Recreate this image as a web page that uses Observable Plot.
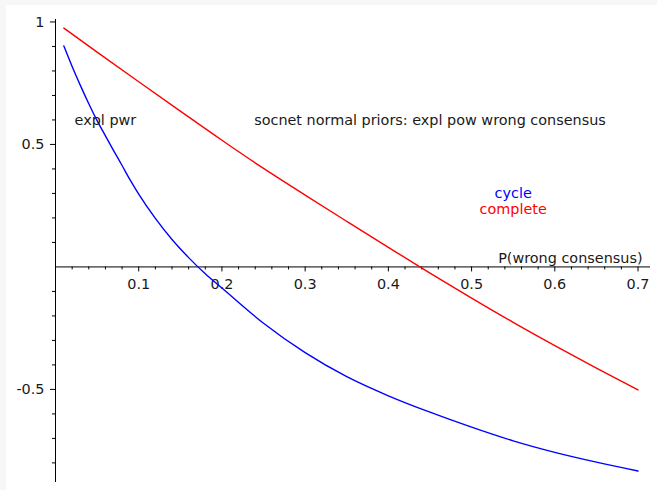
<!DOCTYPE html>
<html><head><meta charset="utf-8">
<script src="https://cdn.jsdelivr.net/npm/d3@7"></script>
<script src="https://cdn.jsdelivr.net/npm/@observablehq/plot@0.6"></script>
<style>
html,body{margin:0;padding:0;background:#f7f7f7;}
#chart{position:absolute;left:6px;top:5px;}
#chart svg{background:#fff;display:block;}
</style></head><body><div id="chart"></div>
<script>
// P(wrong consensus) sample points
const cycleX = [0.01,0.02,0.03,0.04,0.05,0.06,0.07,0.08,0.09,0.10,0.12,0.14,0.16,0.18,0.20,0.25,0.30,0.35,0.40,0.45,0.50,0.55,0.60,0.65,0.70];
const cycleY = [0.902,0.818,0.740,0.666,0.597,0.535,0.474,0.414,0.353,0.297,0.198,0.112,0.038,-0.028,-0.086,-0.230,-0.350,-0.448,-0.526,-0.593,-0.654,-0.710,-0.757,-0.797,-0.833];
const completeX = [0.01,0.05,0.10,0.15,0.20,0.25,0.30,0.35,0.40,0.45,0.50,0.55,0.60,0.65,0.70];
const completeY = [0.975,0.877,0.756,0.636,0.517,0.402,0.293,0.186,0.080,-0.025,-0.127,-0.226,-0.321,-0.413,-0.502];

const xMajor = [0.1,0.2,0.3,0.4,0.5,0.6,0.7];
const xTickLabels = ["0.1","0.2","0.3","0.4","0.5","0.6","0.7"];
const xMinor = [0.02,0.04,0.06,0.08,0.12,0.14,0.16,0.18,0.22,0.24,0.26,0.28,0.32,0.34,0.36,0.38,0.42,0.44,0.46,0.48,0.52,0.54,0.56,0.58,0.62,0.64,0.66,0.68];
const yMajor = [-0.5,0.5,1];
const yTickLabels = ["-0.5","0.5","1"];
const yMinor = [-0.8,-0.7,-0.6,-0.4,-0.3,-0.2,-0.1,0.1,0.2,0.3,0.4,0.6,0.7,0.8,0.9];

const noteText = ["expl pwr","socnet normal priors: expl pow wrong consensus"];
const noteX = [0.06,0.45];
const noteY = [0.6,0.6];
const legendText = ["cycle","complete"];
const legendColor = ["#0000ff","#ff0000"];
const legendX = [0.55,0.55];
const legendY = [0.3,0.233];
const xLabel = "P(wrong consensus)";

const cycle = cycleX.map((x,i)=>({x, y: cycleY[i]}));
const complete = completeX.map((x,i)=>({x, y: completeY[i]}));
const notes = noteText.map((t,i)=>({t, x: noteX[i], y: noteY[i]}));
const legend = legendText.map((t,i)=>({t, c: legendColor[i], x: legendX[i], y: legendY[i]}));

const fs = 14.4;
const chart = Plot.plot({
  width: 651, height: 485,
  marginLeft: 49, marginRight: 7, marginTop: 14, marginBottom: 8,
  x: {domain: [0, 0.715], axis: null},
  y: {domain: [-0.88, 1.01], axis: null},
  style: {fontFamily: "DejaVu Sans", fontSize: fs + "px", color: "#1a1a1a", background: "#fff"},
  marks: [
    Plot.ruleY([0], {stroke: "#000", strokeWidth: 1}),
    Plot.ruleX([0], {stroke: "#000", strokeWidth: 1}),
    Plot.ruleX(xMinor, {x: d=>d, y1: d=>0, y2: d=>0, insetBottom: -3, stroke: "#000"}),
    Plot.ruleX(xMajor, {x: d=>d, y1: d=>0, y2: d=>0, insetBottom: -5, stroke: "#000"}),
    Plot.ruleY(yMinor, {y: d=>d, x1: d=>0, x2: d=>0, insetLeft: -3, stroke: "#000"}),
    Plot.ruleY(yMajor, {y: d=>d, x1: d=>0, x2: d=>0, insetLeft: -5, stroke: "#000"}),
    Plot.text(xMajor, {x: d=>d, y: d=>0, text: (d,i)=>xTickLabels[i], dy: 22, lineAnchor: "bottom", fill: "#1a1a1a", fontSize: fs}),
    Plot.text(yMajor, {x: d=>0, y: d=>d, text: (d,i)=>yTickLabels[i], dx: -11, textAnchor: "end", lineAnchor: "middle", fill: "#1a1a1a", fontSize: fs}),
    Plot.text([xLabel], {x: d=>0.715, y: d=>0, text: d=>d, dx: -8, dy: -4, textAnchor: "end", lineAnchor: "bottom", fill: "#1a1a1a", fontSize: fs}),
    Plot.line(complete, {x: "x", y: "y", stroke: "#ff0000", strokeWidth: 1.4, curve: "monotone-x"}),
    Plot.line(cycle, {x: "x", y: "y", stroke: "#0000ff", strokeWidth: 1.4, curve: "monotone-x"}),
    Plot.text(notes, {x: "x", y: "y", text: "t", fill: "#1a1a1a", fontSize: fs, lineAnchor: "middle"}),
    Plot.text(legend, {x: "x", y: "y", text: "t", fill: "c", fontSize: fs, lineAnchor: "middle"})
  ]
});
document.getElementById("chart").appendChild(chart);
</script></body></html>
